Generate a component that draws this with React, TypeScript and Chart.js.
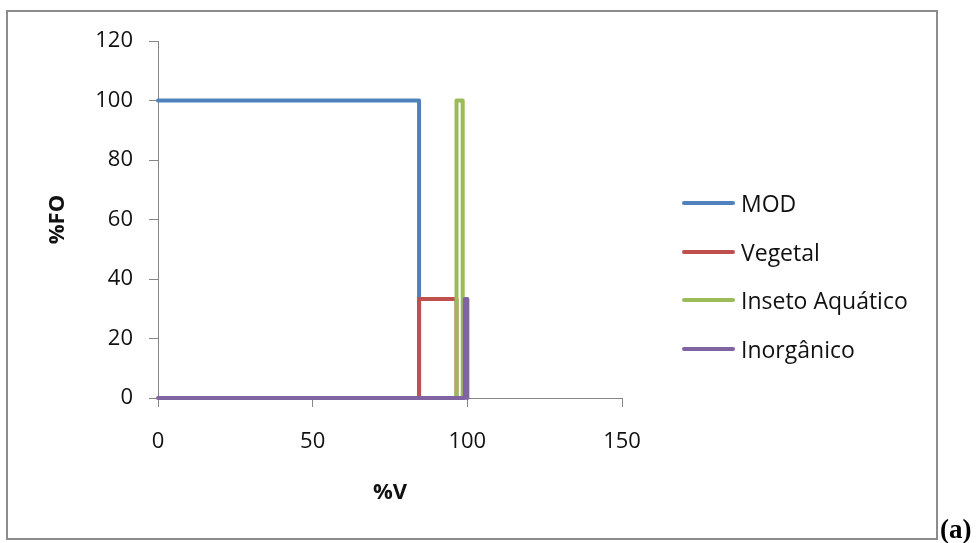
import React, { useEffect, useRef } from 'react';
import { Chart, registerables } from 'chart.js';

Chart.register(...registerables);

// ---- data ----
const seriesNames = ['MOD', 'Vegetal', 'Inseto Aquático', 'Inorgânico'];
const seriesColors = ['#4F81BD', '#C0504D', '#9BBB59', '#8064A2'];

const modX = [0, 84.4, 84.4];
const modY = [100, 100, 0];
const vegetalX = [84.4, 84.4, 96.5, 96.5];
const vegetalY = [0, 33.3, 33.3, 0];
const insetoX = [96.5, 96.5, 98.5, 98.5];
const insetoY = [0, 100, 100, 0];
const inorganicoX = [0, 99.2, 99.2, 100, 100];
const inorganicoY = [0, 0, 33.3, 33.3, 0];

const xTicks = [0, 50, 100, 150];
const yTicks = [0, 20, 40, 60, 80, 100, 120];
const xTitle = '%V';
const yTitle = '%FO';
const panelLabel = '(a)';

const seriesX = [modX, vegetalX, insetoX, inorganicoX];
const seriesY = [modY, vegetalY, insetoY, inorganicoY];

const FONT = '"Open Sans", "Noto Sans", sans-serif';
const AXIS = '#868686';

export default function App() {
  const ref = useRef<HTMLCanvasElement>(null);

  useEffect(() => {
    if (!ref.current) return;
    const datasets = seriesNames.map((name, i) => ({
      label: name,
      data: seriesX[i].map((x, k) => ({ x, y: seriesY[i][k] })),
      showLine: true,
      borderColor: seriesColors[i],
      backgroundColor: seriesColors[i],
      borderWidth: 4,
      borderCapStyle: 'round' as const,
      borderJoinStyle: 'round' as const,
      pointRadius: 0,
      pointHoverRadius: 0,
      fill: false,
      tension: 0,
      clip: false as const,
      order: seriesNames.length - 1 - i,
    }));

    const chart = new Chart(ref.current, {
      type: 'scatter',
      data: { datasets },
      options: {
        animation: false,
        responsive: false,
        devicePixelRatio: 1,
        layout: { padding: { left: 0, top: 41, right: 357, bottom: 0 } },
        plugins: {
          legend: { display: false },
          tooltip: { enabled: false },
        },
        scales: {
          x: {
            type: 'linear',
            min: xTicks[0],
            max: xTicks[xTicks.length - 1],
            afterBuildTicks: (s: any) => {
              s.ticks = xTicks.map((v) => ({ value: v }));
            },
            afterFit: (s: any) => {
              s.height = 145;
            },
            grid: {
              drawOnChartArea: false,
              drawTicks: true,
              tickLength: 9,
              color: AXIS,
            },
            border: { display: true, color: AXIS, width: 1 },
            ticks: {
              color: '#111',
              font: { family: FONT, size: 22 },
              padding: 22,
              maxRotation: 0,
              autoSkip: false,
            },
            title: {
              display: true,
              text: xTitle,
              color: '#111',
              font: { family: FONT, size: 22, weight: 'bold' },
              padding: { top: 0, bottom: 37 },
            },
          },
          y: {
            type: 'linear',
            min: yTicks[0],
            max: yTicks[yTicks.length - 1],
            afterBuildTicks: (s: any) => {
              s.ticks = yTicks.map((v) => ({ value: v }));
            },
            afterFit: (s: any) => {
              s.width = 158;
            },
            grid: {
              drawOnChartArea: false,
              drawTicks: true,
              tickLength: 9,
              color: AXIS,
            },
            border: { display: true, color: AXIS, width: 1 },
            ticks: {
              color: '#111',
              font: { family: FONT, size: 22 },
              padding: 16,
              autoSkip: false,
            },
            title: {
              display: true,
              text: yTitle,
              color: '#111',
              font: { family: FONT, size: 22, weight: 'bold' },
              padding: { top: 45, bottom: 0 },
            },
          },
        },
      },
    });
    return () => chart.destroy();
  }, []);

  const legendY = [203, 251.5, 300, 348.5];

  return (
    <div
      style={{
        position: 'fixed',
        left: 0,
        top: 0,
        width: 979,
        height: 543,
        background: '#fff',
        overflow: 'hidden',
      }}
    >
      <div
        style={{
          position: 'absolute',
          left: 6,
          top: 10,
          width: 932,
          height: 530,
          boxSizing: 'border-box',
          border: '2px solid #8c8c8c',
        }}
      />
      <canvas
        ref={ref}
        width={979}
        height={543}
        style={{ position: 'absolute', left: 0, top: 0, width: 979, height: 543 }}
      />
      {seriesNames.map((name, i) => (
        <div
          key={name}
          style={{
            position: 'absolute',
            left: 682,
            top: legendY[i] - 18,
            height: 36,
            display: 'flex',
            alignItems: 'center',
            whiteSpace: 'nowrap',
          }}
        >
          <span
            style={{
              display: 'inline-block',
              width: 53,
              height: 4,
              borderRadius: 2,
              background: seriesColors[i],
            }}
          />
          <span
            style={{
              marginLeft: 6,
              fontFamily: FONT,
              fontSize: 23,
              color: '#111',
              lineHeight: 'normal',
            }}
          >
            {name}
          </span>
        </div>
      ))}
      <div
        style={{
          position: 'absolute',
          left: 940,
          top: 516,
          fontFamily: '"Liberation Serif", "Times New Roman", serif',
          fontWeight: 'bold',
          fontSize: 27,
          lineHeight: 1,
          color: '#000',
          whiteSpace: 'nowrap',
        }}
      >
        {panelLabel}
      </div>
    </div>
  );
}
